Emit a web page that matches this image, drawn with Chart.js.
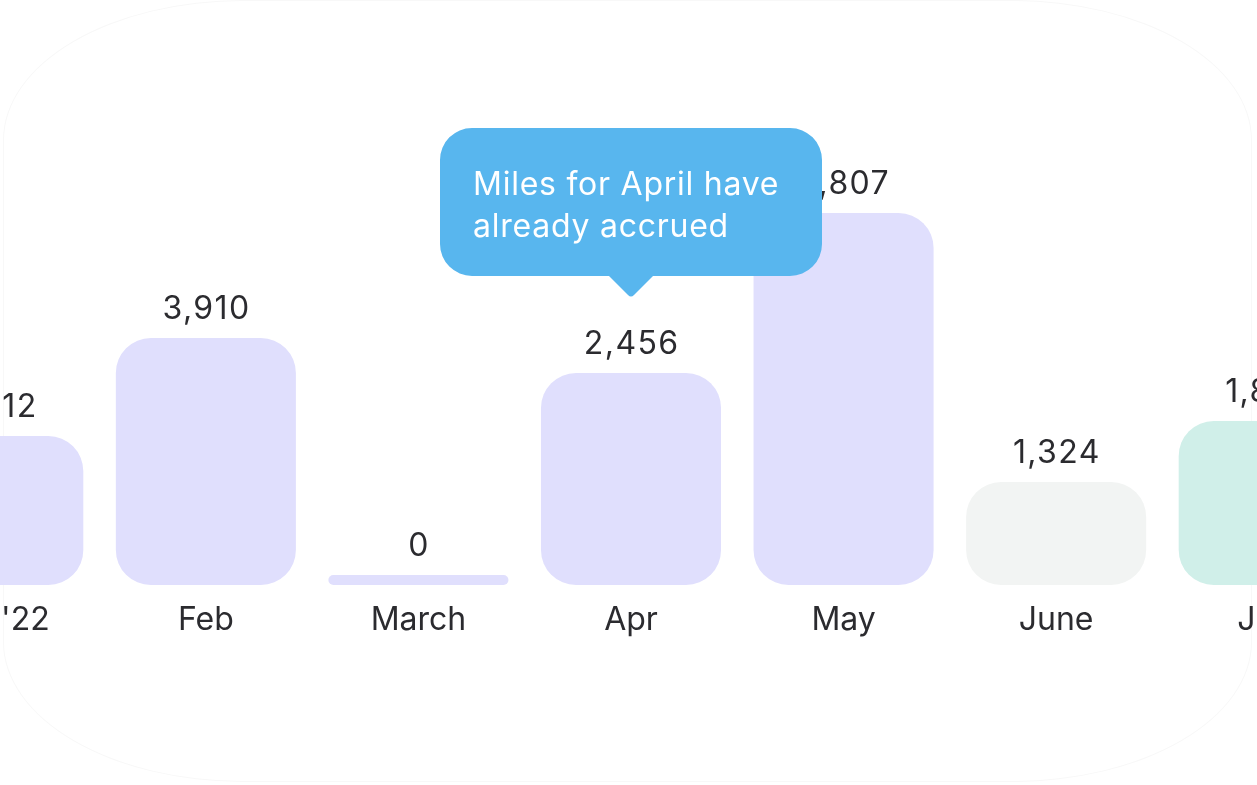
<!DOCTYPE html>
<html>
<head>
<meta charset="utf-8">
<script src="https://cdn.jsdelivr.net/npm/chart.js@4.4.0/dist/chart.umd.min.js"></script>
<style>
  html, body { margin: 0; padding: 0; background: #ffffff; width: 1257px; height: 785px; overflow: hidden; }
  #frame { position: absolute; left: 3px; top: 0px; width: 1249px; height: 782px; border: 1px solid #f8f8f8; border-radius: 240px / 140px; box-sizing: border-box; }
  #wrap { position: absolute; left: -113px; top: 0; width: 1488px; height: 785px; }
</style>
</head>
<body>
<div id="frame"></div>
<div id="wrap"><canvas id="c"></canvas></div>
<script>
// Month categories (the first and last are cut off by the frame)
const months = ["Jan '22", "Feb", "March", "Apr", "May", "June", "July"];
// Values printed above each bar
const milesLabels = ["2,312", "3,910", "0", "2,456", "5,807", "1,324", "1,845"];
// Bar lengths (same hidden scale, 0..6000)
const barLengths = [2346, 3890, 0, 3339, 5858, 1622, 2583];
// Bar fill colours (past months, pending month, next month)
const barColors = ["#E0DFFD", "#E0DFFD", "#E0DFFD", "#E0DFFD", "#E0DFFD", "#F2F4F3", "#D0EFE9"];
// Callout text for the highlighted month
const calloutLines = ["Miles for April have", "already accrued"];
const calloutIndex = 3;

const FONT = "Inter, 'Open Sans', 'DejaVu Sans', sans-serif";
const TEXT = "#2B2B2F";

const valueLabelPlugin = {
  id: 'valueLabels',
  afterDatasetsDraw(chart) {
    const ctx = chart.ctx;
    const meta = chart.getDatasetMeta(0);
    ctx.save();
    ctx.font = "400 32px " + FONT;
    ctx.fillStyle = TEXT;
    ctx.textAlign = 'left';
    ctx.textBaseline = 'alphabetic';
    try { ctx.letterSpacing = '1.4px'; } catch (e) {}
    meta.data.forEach((bar, i) => {
      const w = ctx.measureText(milesLabels[i]).width - 1.4;
      ctx.fillText(milesLabels[i], bar.x - w / 2, bar.y - 19);
    });
    ctx.restore();
  }
};

const calloutPlugin = {
  id: 'callout',
  afterDraw(chart) {
    const ctx = chart.ctx;
    const bar = chart.getDatasetMeta(0).data[calloutIndex];
    const cx = bar.x;
    const bottom = bar.y - 97;
    const top = bottom - 148;
    const left = cx - 191, right = cx + 191;
    const r = 32;
    ctx.save();
    ctx.fillStyle = '#58B6EE';
    ctx.beginPath();
    ctx.moveTo(left + r, top);
    ctx.arcTo(right, top, right, bottom, r);
    ctx.arcTo(right, bottom, cx + 22, bottom, r);
    ctx.lineTo(cx + 22, bottom);
    ctx.lineTo(cx + 3, bottom + 19);
    ctx.quadraticCurveTo(cx, bottom + 22, cx - 3, bottom + 19);
    ctx.lineTo(cx - 22, bottom);
    ctx.arcTo(left, bottom, left, top, r);
    ctx.arcTo(left, top, right, top, r);
    ctx.closePath();
    ctx.fill();
    ctx.fillStyle = '#FFFFFF';
    ctx.font = "400 32px " + FONT;
    ctx.textAlign = 'left';
    ctx.textBaseline = 'alphabetic';
    try { ctx.letterSpacing = '0.75px'; } catch (e) {}
    ctx.fillText(calloutLines[0], left + 33, top + 67);
    ctx.fillText(calloutLines[1], left + 33, top + 109);
    ctx.restore();
  }
};

new Chart(document.getElementById('c'), {
  type: 'bar',
  data: {
    labels: months,
    datasets: [{
      data: barLengths,
      backgroundColor: barColors,
      borderWidth: 0,
      borderRadius: 35,
      borderSkipped: false,
      minBarLength: 10,
      barPercentage: 0.847,
      categoryPercentage: 1.0
    }]
  },
  options: {
    responsive: true,
    maintainAspectRatio: false,
    animation: false,
    layout: { padding: { top: 204, left: 0, right: 0, bottom: 0 } },
    plugins: { legend: { display: false }, tooltip: { enabled: false } },
    scales: {
      x: {
        grid: { display: false, drawTicks: false },
        border: { display: false },
        ticks: { color: TEXT, font: { family: FONT, size: 32 }, padding: 16, maxRotation: 0, autoSkip: false },
        afterFit(scale) { scale.height = 200; }
      },
      y: { display: false, min: 0, max: 6000 }
    }
  },
  plugins: [valueLabelPlugin, calloutPlugin]
});
</script>
</body>
</html>
